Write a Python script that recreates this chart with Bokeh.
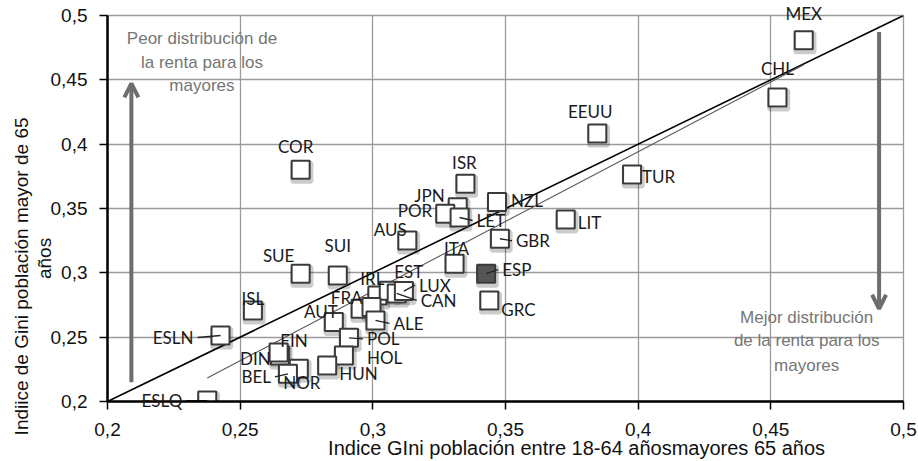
import numpy as np
from bokeh.plotting import figure
from bokeh.models import Range1d, FixedTicker, Label, Arrow, OpenHead, CustomJSTickFormatter, ColumnDataSource
from bokeh.core.properties import value
from bokeh.embed import file_html
from bokeh.resources import INLINE

# ---------------- data ----------------
countries = ["MEX", "CHL", "EEUU", "TUR", "ISR", "NZL", "JPN", "POR", "LET", "LIT",
             "GBR", "ITA", "ESP", "GRC", "AUS", "COR", "SUE", "SUI", "ISL", "ESLN",
             "ESLQ", "IRL", "EST", "CAN", "LUX", "FRA", "RCH", "ALE", "AUT", "POL",
             "HOL", "HUN", "FIN", "DIN", "NOR", "BEL"]
gini_18_64 = [0.4624, 0.4525, 0.3846, 0.3977, 0.3349, 0.3468, 0.3320, 0.3273, 0.3327, 0.3727,
              0.3479, 0.3308, 0.3427, 0.3439, 0.3130, 0.2728, 0.2728, 0.2868, 0.2548, 0.2426,
              0.2376, 0.3017, 0.3060, 0.3090, 0.3117, 0.2954, 0.2995, 0.3010, 0.2853, 0.2910,
              0.2891, 0.2828, 0.2650, 0.2645, 0.2721, 0.2680]
gini_65 = [0.4807, 0.4362, 0.4082, 0.3765, 0.3693, 0.3550, 0.3510, 0.3460, 0.3430, 0.3415,
           0.3265, 0.3071, 0.2993, 0.2785, 0.3252, 0.3802, 0.2993, 0.2980, 0.2708, 0.2513,
           0.2007, 0.2824, 0.2860, 0.2840, 0.2858, 0.2721, 0.2735, 0.2630, 0.2617, 0.2495,
           0.2358, 0.2280, 0.2358, 0.2380, 0.2254, 0.2215]
highlight = "ESP"
tick_values = [0.2, 0.25, 0.3, 0.35, 0.4, 0.45, 0.5]
# linear trend line as drawn in the reference (end points)
trend_x = [0.2376, 0.4624]
trend_y = [0.2182, 0.4617]

x_title = "Indice GIni población entre 18-64 añosmayores 65 años"
y_title_1 = "Indiice de Gini población mayor de 65"
y_title_2 = "años"
note_top = ["Peor distribución de", "la renta para los", "mayores"]
note_bottom = ["Mejor distribución", "de la renta para los", "mayores"]

# label placement (pixel offsets from the marker centre, screen y downwards)
label_layout = {
    "MEX": (0, -27, "center"), "CHL": (0, -29, "center"), "EEUU": (-7, -22, "center"),
    "TUR": (10, 2, "left"), "ISR": (-1, -21, "center"), "NZL": (14, -2, "left"),
    "JPN": (-13, -12, "right"), "POR": (-13, -3, "right"), "LET": (17, 3, "left"),
    "LIT": (12, 3, "left"), "GBR": (16, 2, "left"), "ITA": (2, -15, "center"),
    "ESP": (16, -4, "left"), "GRC": (12, 9, "left"), "AUS": (-17, -11, "center"),
    "COR": (-5, -23, "center"), "SUE": (-22, -18, "center"), "SUI": (0, -30, "center"),
    "ISL": (0, -12, "center"), "ESLN": (-27, 2, "right"), "ESLQ": (-25, 0, "right"),
    "IRL": (-5, -17, "center"), "EST": (20, -19, "center"), "CAN": (24, 7, "left"),
    "LUX": (15, -6, "left"), "FRA": (2, -11, "right"), "AUT": (-13, -11, "center"),
    "ALE": (18, 3, "left"), "POL": (18, 1, "left"), "HOL": (23, 2, "left"),
    "HUN": (12, 8, "left"), "FIN": (14, -15, "center"), "DIN": (-8, 6, "right"),
    "BEL": (-17, 3, "right"), "NOR": (3, 14, "center"),
}
leaders = ["ESLN", "ESLQ", "BEL", "LET", "ALE", "POL", "CAN", "GBR", "ESP", "LUX"]

# ---------------- figure ----------------
LEFT, TOP, FRAME_W, FRAME_H = 107, 15, 796, 386
p = figure(width=918, height=461, output_backend="svg", toolbar_location=None,
           x_range=Range1d(0.2, 0.5), y_range=Range1d(0.2, 0.5),
           min_border_left=LEFT, min_border_right=918 - LEFT - FRAME_W,
           min_border_top=TOP, min_border_bottom=461 - TOP - FRAME_H)
XPX = 0.3 / FRAME_W
YPX = 0.3 / FRAME_H


def fx(v):
    return LEFT + (v - 0.2) / XPX


def fy(v):
    return TOP + FRAME_H - (v - 0.2) / YPX


SANS = "Liberation Sans"
p.background_fill_color = "white"
p.border_fill_color = "white"
p.outline_line_color = "#9a9a9a"
p.outline_line_width = 1.3

for ax in (p.xaxis[0], p.yaxis[0]):
    ax.ticker = FixedTicker(ticks=tick_values)
    ax.formatter = CustomJSTickFormatter(
        code="return tick.toFixed(2).replace(/0$/, '').replace('.', ',');")
    ax.axis_line_color = "black"
    ax.axis_line_width = 2.5
    ax.major_tick_line_color = "black"
    ax.major_tick_line_width = 1.5
    ax.major_tick_out = 8
    ax.major_tick_in = 0
    ax.minor_tick_line_color = None
    ax.major_label_text_font = SANS
    ax.major_label_text_font_size = "19px"
    ax.major_label_text_color = "#111111"
p.xaxis.major_label_standoff = 13
p.yaxis.major_label_standoff = 12

for g in (p.xgrid[0], p.ygrid[0]):
    g.ticker = FixedTicker(ticks=tick_values)
    g.grid_line_color = "#9a9a9a"
    g.grid_line_width = 1.3

# reference diagonal y = x
p.line(x=[tick_values[0], tick_values[-1]], y=[tick_values[0], tick_values[-1]],
       line_color="black", line_width=1.6)
# trend line
p.line(x=trend_x, y=trend_y, line_color="#5a5a5a", line_width=1.1)

xa = np.array(gini_18_64)
ya = np.array(gini_65)
# shadows
p.scatter(x=xa + 1.2 * XPX, y=ya - 2.5 * YPX, marker="square", size=19,
          fill_color=None, line_color="black", line_alpha=0.2, line_width=4)
# markers
fills = ["#555555" if c == highlight else "white" for c in countries]
p.scatter(x=xa, y=ya, marker="square", size=18, fill_color=fills,
          line_color="#3a3a3a", line_width=2)

# leader lines
lx0, ly0, lx1, ly1 = [], [], [], []
for c in leaders:
    i = countries.index(c)
    dx, dy, al = label_layout[c]
    gap = -4 if al == "left" else 4
    lx0.append(xa[i]); ly0.append(ya[i])
    lx1.append(xa[i] + (dx + gap) * XPX); ly1.append(ya[i] - dy * YPX)
p.segment(x0=lx0, y0=ly0, x1=lx1, y1=ly1, line_color="#222222", line_width=1.3)

# data labels (glyphs at overlay level, anchored at the marker, shifted in pixels)
for align in ("left", "center", "right"):
    rows = [(i, c) for i, c in enumerate(countries)
            if c in label_layout and label_layout[c][2] == align]
    src = ColumnDataSource(dict(
        x=[xa[i] for i, _ in rows], y=[ya[i] for i, _ in rows],
        t=[c for _, c in rows],
        dx=[label_layout[c][0] for _, c in rows],
        dy=[label_layout[c][1] for _, c in rows]))
    p.text(x="x", y="y", text="t", x_offset="dx", y_offset="dy", source=src,
           text_align=align, text_baseline="middle", text_font=value("Lato"),
           text_font_size=value("17px"), text_color="#1a1a1a", level="overlay")

# arrows
arrow_col = "#6e6e6e"
p.add_layout(Arrow(end=OpenHead(size=14, line_width=4, line_color=arrow_col),
                   x_start=0.209, y_start=0.215, x_end=0.209, y_end=0.4473,
                   line_width=4, line_color=arrow_col))
p.add_layout(Arrow(end=OpenHead(size=14, line_width=4, line_color=arrow_col),
                   x_start=0.4908, y_start=0.4872, x_end=0.4908, y_end=0.2721,
                   line_width=4, line_color=arrow_col))

# annotation texts
note_col = "#767676"
for txt, yy in zip(note_top, [0.4823, 0.4636, 0.4457]):
    p.add_layout(Label(x=0.2356, y=yy, text=txt, text_align="center", text_baseline="middle",
                       text_font=SANS, text_font_size="17px", text_color=note_col))
for txt, yy in zip(note_bottom, [0.2656, 0.2474, 0.2280]):
    p.add_layout(Label(x=0.4635, y=yy, text=txt, text_align="center", text_baseline="middle",
                       text_font=SANS, text_font_size="17px", text_color=note_col))

# axis titles: text glyphs anchored at a point of the frame and shifted in pixels
ax_anchor = 0.25
titles = [
    (x_title, 0.3768, ax_anchor, 0, 447 - fy(ax_anchor), 0.0, "20px"),
    (y_title_1, ax_anchor, 0.2972, 21 - fx(ax_anchor), 0, np.pi / 2, "19px"),
    (y_title_2, ax_anchor, 0.3112, 44 - fx(ax_anchor), 0, np.pi / 2, "19px"),
]
for txt, xx, yy, ox, oy, ang, fs in titles:
    p.text(x=[xx], y=[yy], text=[txt], x_offset=ox, y_offset=oy, angle=ang,
           text_align="center", text_baseline="middle", text_font=value(SANS),
           text_font_size=value(fs), text_color="#111111", level="overlay")

open("out.html", "w").write(file_html(p, INLINE))
